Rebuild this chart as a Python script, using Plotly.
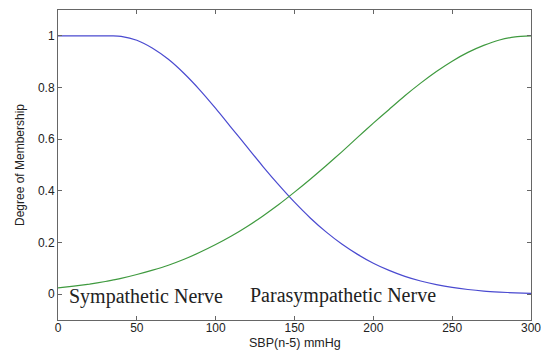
import plotly.graph_objects as go

sbp = [0, 10, 20, 30, 35, 40, 50, 60, 70, 80, 90, 100, 110, 120, 130, 140, 150,
       160, 170, 180, 190, 200, 210, 220, 230, 240, 250, 260, 270, 280, 290, 300]
sympathetic = [1.0, 1.0, 1.0, 1.0, 1.0, 0.998, 0.983, 0.952, 0.909, 0.854, 0.790, 0.719,
               0.644, 0.569, 0.494, 0.423, 0.356, 0.295, 0.241, 0.194, 0.154, 0.120,
               0.092, 0.069, 0.051, 0.037, 0.026, 0.018, 0.012, 0.008, 0.005, 0.003]
parasympathetic = [0.024, 0.031, 0.039, 0.049, 0.055, 0.061, 0.076, 0.093, 0.112, 0.135,
                   0.162, 0.192, 0.225, 0.262, 0.303, 0.347, 0.395, 0.445, 0.497, 0.551,
                   0.607, 0.662, 0.715, 0.768, 0.817, 0.862, 0.902, 0.936, 0.963, 0.984,
                   0.996, 1.0]
x_ticks = [0, 50, 100, 150, 200, 250, 300]
y_ticks = [0, 0.2, 0.4, 0.6, 0.8, 1]
y_tick_text = ["0", "0.2", "0.4", "0.6", "0.8", "1"]
labels = ["Sympathetic Nerve", "Parasympathetic Nerve"]
label_x = [56, 181]
label_y = [-0.01, -0.005]
x_title = "SBP(n-5) mmHg"
y_title = "Degree of Membership"

fig = go.Figure()
fig.add_trace(go.Scatter(x=sbp, y=sympathetic, mode="lines",
                         line=dict(color="#4a4ad0", width=1.2, shape="spline", smoothing=0.6),
                         showlegend=False))
fig.add_trace(go.Scatter(x=sbp, y=parasympathetic, mode="lines",
                         line=dict(color="#3f9a3f", width=1.2, shape="spline", smoothing=0.6),
                         showlegend=False))

for t, xx, yy in zip(labels, label_x, label_y):
    fig.add_annotation(x=xx, y=yy, text=t, showarrow=False, xref="x", yref="y",
                       font=dict(family="Liberation Serif", size=20, color="#222"))

fig.add_annotation(x=0.5, y=-0.1, xref="paper", yref="paper", text=x_title,
                   showarrow=False, xanchor="center", yanchor="bottom", yshift=-1,
                   font=dict(family="Liberation Sans", size=12.5, color="#222"))

axis_common = dict(showgrid=False, zeroline=False, showline=True, linecolor="#666", linewidth=1,
                   mirror="allticks", ticks="inside", ticklen=4, tickcolor="#666",
                   automargin=False,
                   tickfont=dict(family="Liberation Sans", size=12, color="#222"))
fig.update_xaxes(range=[0, 300], tickvals=x_ticks, ticklabeloverflow="allow",
                 ticklabelstandoff=-3, **axis_common)
fig.update_yaxes(range=[-0.1, 1.1], tickvals=y_ticks, ticktext=y_tick_text,
                 title=dict(text=y_title, standoff=10,
                            font=dict(family="Liberation Sans", size=12, color="#222")),
                 **axis_common)
fig.update_layout(width=541, height=351, margin=dict(l=58, r=10, t=10, b=31),
                  plot_bgcolor="white", paper_bgcolor="white")
fig.write_html("out.html")
